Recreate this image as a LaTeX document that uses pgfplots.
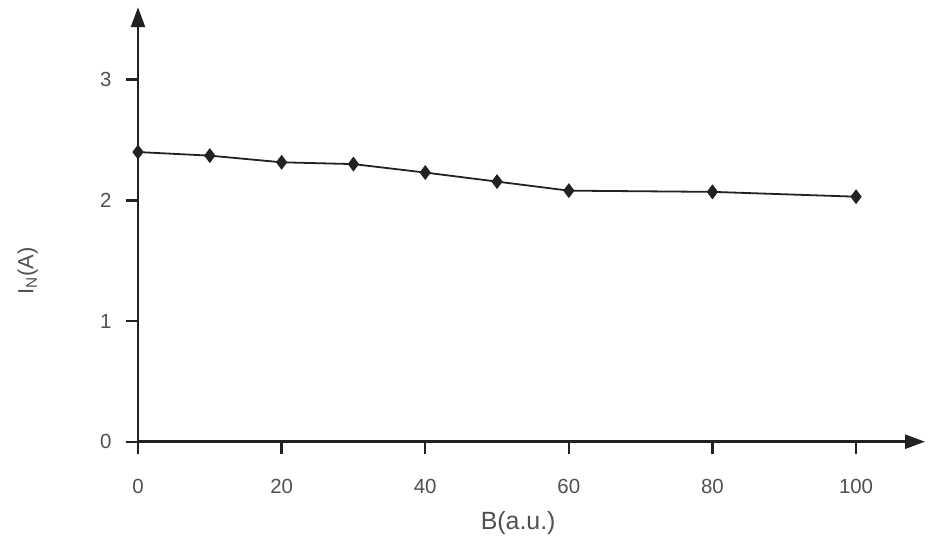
\documentclass[border=0pt]{standalone}
\usepackage{fontspec}
\setmainfont{Liberation Sans}
\usepackage{pgfplots}
\pgfplotsset{compat=1.18}
\usetikzlibrary{arrows.meta}
\definecolor{axcol}{HTML}{222222}
\definecolor{txtcol}{HTML}{505050}
\begin{document}
\begin{tikzpicture}
\path[use as bounding box] (-138bp,-97.3bp) rectangle (791bp,441.7bp);
\begin{axis}[
  at={(0,0)}, anchor=south west,
  scale only axis, width=787bp, height=434.5bp,
  xmin=0, xmax=109.6, ymin=0, ymax=3.6,
  enlargelimits=false, clip=false,
  axis lines=left,
  axis line style={line width=2.6bp, draw=axcol, -{Triangle[length=20bp,width=14bp]}},
  xtick={0,20,40,60,80,100}, ytick={0,1,2,3},
  tick align=outside, major tick length=12bp,
  tick style={line width=2.4bp, draw=axcol},
  /pgf/number format/assume math mode=true,
  xticklabel style={font=\fontsize{20.5}{22}\selectfont, text=txtcol, yshift=-22bp},
  yticklabel style={font=\fontsize{20.5}{22}\selectfont, text=txtcol, xshift=-11bp},
  xlabel={B(a.u.)},
  xlabel style={at={(axis description cs:0.483,-0.187)}, anchor=center, font=\fontsize{25}{28}\selectfont, text=txtcol},
  ylabel={I\textsubscript{N}(A)},
  ylabel style={at={(axis description cs:-0.14,0.393)}, anchor=center, font=\fontsize{22}{24}\selectfont, text=txtcol},
]
\addplot[line width=1.8bp, color=axcol, mark=diamond*, mark size=6bp, mark options={fill=axcol}]
coordinates {(0,2.40) (10,2.37) (20,2.315) (30,2.30) (40,2.23) (50,2.155) (60,2.08) (80,2.07) (100,2.03)};
\end{axis}
\end{tikzpicture}
\end{document}
